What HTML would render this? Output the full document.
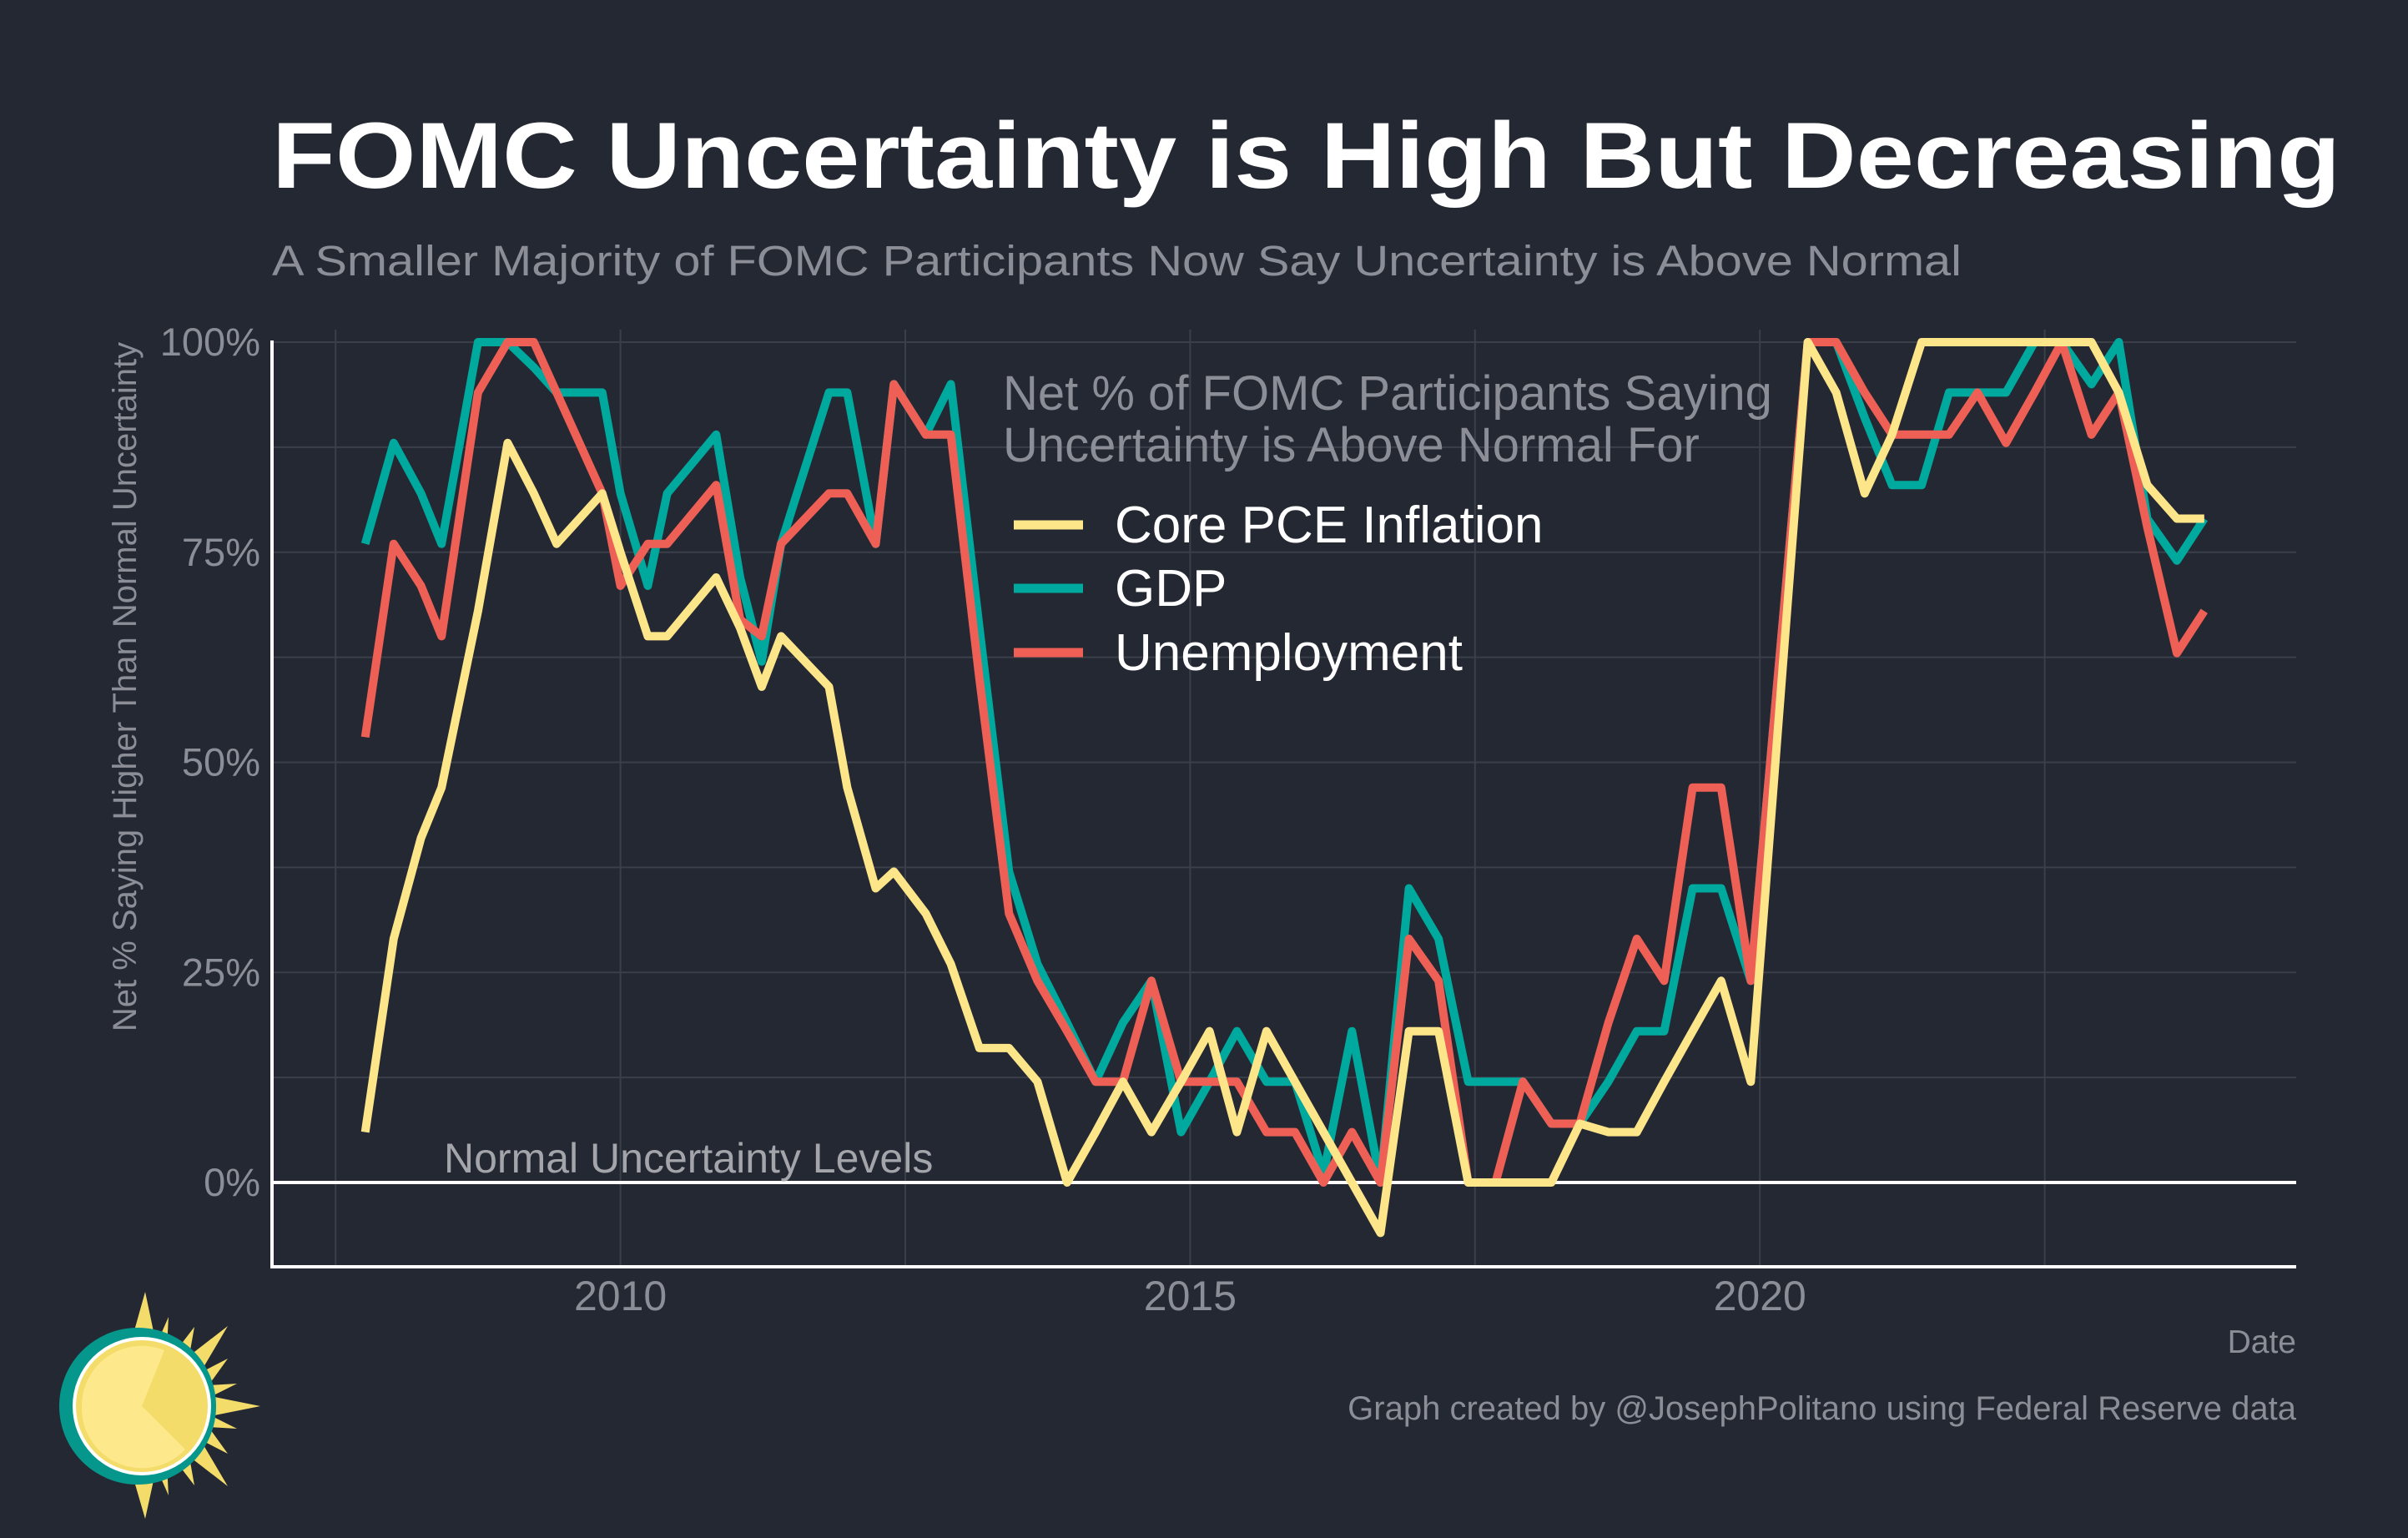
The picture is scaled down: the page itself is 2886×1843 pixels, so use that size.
<!DOCTYPE html>
<html><head><meta charset="utf-8"><style>
html,body{margin:0;padding:0;background:#242833;}
svg{display:block;font-family:"Liberation Sans",sans-serif;}
</style></head><body>
<svg id="chart" width="2886" height="1843" viewBox="0 0 2886 1843">
<rect x="0" y="0" width="2886" height="1843" fill="#242833"/>
<text x="326" y="225" font-size="112" font-weight="bold" fill="#ffffff" textLength="2479" lengthAdjust="spacingAndGlyphs">FOMC Uncertainty is High But Decreasing</text>
<text x="326" y="330" font-size="51" fill="#8b8e96" textLength="2025" lengthAdjust="spacingAndGlyphs">A Smaller Majority of FOMC Participants Now Say Uncertainty is Above Normal</text>
<g id="grid"></g>
<g id="axes"></g>
<g id="series"></g>
<text x="532" y="1405" font-size="50" fill="#a3a5ab">Normal Uncertainty Levels</text>
<text transform="translate(163,823) rotate(-90)" text-anchor="middle" font-size="40" fill="#8b8e96">Net % Saying Higher Than Normal Uncertainty</text>
<text x="2752" y="1621" text-anchor="end" font-size="39" fill="#8b8e96">Date</text>
<text x="2752" y="1701" text-anchor="end" font-size="40" fill="#8b8e96">Graph created by @JosephPolitano using Federal Reserve data</text>
<g>
<text x="1202" y="491" font-size="58" fill="#8b8e96">Net % of FOMC Participants Saying</text>
<text x="1202" y="553" font-size="58" fill="#8b8e96">Uncertainty is Above Normal For</text>
<g><line x1="1215" y1="629" x2="1298" y2="629" stroke="#fde68a" stroke-width="11"/><text x="1336" y="650" font-size="62" fill="#ffffff">Core PCE Inflation</text></g>
<g><line x1="1215" y1="705" x2="1298" y2="705" stroke="#00a99d" stroke-width="11"/><text x="1336" y="726" font-size="62" fill="#ffffff">GDP</text></g>
<g><line x1="1215" y1="782" x2="1298" y2="782" stroke="#ee6055" stroke-width="11"/><text x="1336" y="803" font-size="62" fill="#ffffff">Unemployment</text></g>
</g>
<g transform="translate(170,1685)">
<g fill="#f3dc6a">
<polygon points="-12,-80 4,-137 16,-80"/>
<polygon points="-12,80 4,135 16,80"/>
<polygon points="18,-75 32,-107 30,-70"/>
<polygon points="18,75 32,107 30,70"/>
<polygon points="40,-65 63,-95 55,-50"/>
<polygon points="40,65 63,95 55,50"/>
<polygon points="50,-55 103,-96 70,-40"/>
<polygon points="50,55 103,96 70,40"/>
<polygon points="70,-40 103,-57 80,-25"/>
<polygon points="70,40 103,57 80,25"/>
<polygon points="80,-25 114,-27 84,-12"/>
<polygon points="80,25 114,27 84,12"/>
<polygon points="82,-12 142,0 82,12"/>
</g>
<circle cx="-5" cy="0" r="94" fill="#05968c"/>
<circle cx="0" cy="0" r="83" fill="#ffffff"/>
<circle cx="0" cy="0" r="79" fill="#f3dc6a"/>
<path d="M0,0 L27,-67 A72,72 0 0 0 -72,0 A72,72 0 0 0 52,52 Z" fill="#fde88c"/>
</g>
</svg>
<script>
const dates=[2007.76,2008.01,2008.25,2008.43,2008.75,2009.01,2009.24,2009.44,2009.84,2010.00,2010.24,2010.41,2010.84,2011.05,2011.24,2011.41,2011.83,2011.99,2012.24,2012.40,2012.68,2012.90,2013.15,2013.41,2013.66,2013.92,2014.17,2014.41,2014.66,2014.92,2015.17,2015.41,2015.67,2015.92,2016.17,2016.42,2016.67,2016.92,2017.18,2017.44,2017.68,2017.92,2018.17,2018.42,2018.67,2018.92,2019.16,2019.41,2019.66,2019.92,2020.42,2020.67,2020.92,2021.16,2021.42,2021.66,2021.91,2022.16,2022.41,2022.65,2022.91,2023.15,2023.40,2023.66,2023.90];
const corePce=[6,29,41,47,68,88,82,76,82,75,65,65,72,66,59,65,59,47,35,37,32,26,16,16,12,0,6,12,6,12,18,6,18,12,6,0,-6,18,18,0,0,0,0,7,6,6,12,18,24,12,100,94,82,89,100,100,100,100,100,100,100,94,83,79,79];
const gdp=[76,88,82,76,100,100,97,94,94,82,71,82,89,72,62,76,94,94,76,95,89,95,66,37,26,19,12,19,24,6,12,18,12,12,1,18,0,35,29,12,12,12,7,7,12,18,18,35,35,24,100,100,91,83,83,94,94,94,100,100,95,100,79,74,79];
const unemployment=[53,76,71,65,94,100,100,94,82,71,76,76,83,67,65,76,82,82,76,95,89,89,60,32,24,18,12,12,24,12,12,12,6,6,0,6,0,29,24,0,0,12,7,7,19,29,24,47,47,24,100,100,94,89,89,89,94,88,94,100,89,94,78,63,68];
const yTicks=[0,25,50,75,100];
const yTickLabels=["0%","25%","50%","75%","100%"];
const xTicks=[2010,2015,2020];
const xTickLabels=["2010","2015","2020"];
const NS="http://www.w3.org/2000/svg";
const X0=326,X1=2752,YB=1518,YT=395,YA=408;
function xs(d){return 743.6+(d-2010)*136.56;}
function ys(v){return 1417-v*10.07;}
function mk(tag,attrs,parent){const e=document.createElementNS(NS,tag);for(const k in attrs)e.setAttribute(k,attrs[k]);parent.appendChild(e);return e;}
const grid=document.getElementById('grid'),axes=document.getElementById('axes'),series=document.getElementById('series');
for(let v=12.5;v<=100;v+=12.5){const l=mk('line',{x1:X0,x2:X1,y1:ys(v),y2:ys(v),stroke:'#3b3f49','stroke-width':2},grid);

}
for(let d=2007.5;d<=2023;d+=2.5){const l=mk('line',{x1:xs(d),x2:xs(d),y1:YT,y2:YB,stroke:'#3b3f49','stroke-width':2},grid);

}
yTicks.forEach((v,i)=>{const t=mk('text',{x:312,y:ys(v)+16,'text-anchor':'end','font-size':47,fill:'#8b8e96'},axes);t.textContent=yTickLabels[i];

});
xTicks.forEach((d,i)=>{const t=mk('text',{x:xs(d),y:1570,'text-anchor':'middle','font-size':50,fill:'#8b8e96'},axes);t.textContent=xTickLabels[i];

});
const zl=mk('line',{x1:X0,x2:X1,y1:ys(0),y2:ys(0),stroke:'#ffffff','stroke-width':4},axes);


const ax=mk('polyline',{points:`${X0},${YA} ${X0},${YB} ${X1},${YB}`,fill:'none',stroke:'#ffffff','stroke-width':4},axes);


function drawLine(vals,color,name){const pts=vals.map((v,i)=>xs(dates[i]).toFixed(1)+','+ys(v).toFixed(1)).join(' ');
const p=mk('polyline',{points:pts,fill:'none',stroke:color,'stroke-width':10,'stroke-linejoin':'round'},series);

}
drawLine(gdp,'#00a99d','gdp-line');
drawLine(unemployment,'#ee6055','unemployment-line');
drawLine(corePce,'#fde68a','core-pce-line');
</script>
</body></html>
